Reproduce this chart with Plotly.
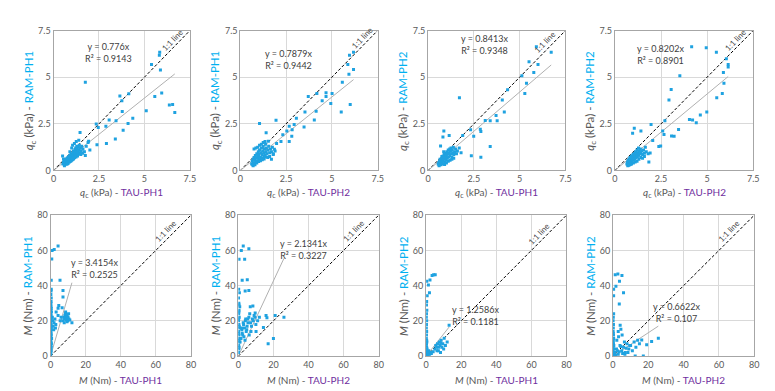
import plotly.graph_objects as go

# ---------------- DATA ----------------
# Panel 1: qc TAU-PH1 (x) vs RAM-PH1 (y)
p1_x = [0.52,0.55,0.58,0.6,0.62,0.63,0.65,0.66,0.68,0.7,0.7,0.72,0.74,0.75,0.76,0.78,0.8,0.8,0.82,0.84,0.85,0.86,0.88,0.9,0.9,0.92,0.94,0.95,0.96,0.98,1.0,1.0,1.02,1.04,1.05,1.06,1.08,1.1,1.1,1.12,1.14,1.15,1.16,1.18,1.2,1.2,1.22,1.24,1.25,1.26,1.28,1.3,1.3,1.32,1.35,1.36,1.38,1.4,1.42,1.45,1.48,1.5,1.52,1.55,1.6,1.62,1.7,1.75,0.5,0.55,0.6,1.0,0.9,1.15,1.25,1.05,1.8,1.9,2.0,
        5.84,5.82,5.39,5.88,1.75,5.95,4.14,3.65,5.57,3.76,6.55,6.37,3.78,5.10,6.67,3.06,4.36,3.44,2.35,2.46,4.10,3.83,2.88,3.40,2.91,2.39,1.93,1.46,1.39]
p1_y = [0.35,0.45,0.38,0.5,0.3,0.42,0.55,0.36,0.48,0.6,0.4,0.52,0.33,0.65,0.45,0.58,0.7,0.38,0.5,0.62,0.75,0.44,0.55,0.68,0.8,0.48,0.6,0.72,0.85,0.52,0.65,0.78,0.9,0.58,0.7,0.82,0.95,0.62,1.05,0.75,0.88,1.0,0.68,1.12,0.8,0.92,1.2,0.72,1.05,0.85,1.3,0.95,1.15,0.78,1.0,1.25,0.88,1.1,1.35,0.95,1.2,0.85,1.05,1.3,0.92,1.15,1.0,0.8,0.78,0.62,0.25,1.2,1.0,1.45,1.55,1.35,1.3,1.5,1.1,
        6.34,6.17,5.68,5.39,4.73,4.15,4.11,3.99,3.97,3.73,3.54,3.51,3.16,3.20,3.11,2.71,2.80,2.66,2.49,2.30,2.52,2.16,2.37,1.68,1.45,1.38,1.57,2.04,1.62]

# Panel 2: qc TAU-PH2 (x) vs RAM-PH1 (y)
p2_x = [0.62,0.65,0.68,0.7,0.72,0.75,0.78,0.8,0.82,0.85,0.88,0.9,0.92,0.95,0.98,1.0,1.02,1.05,1.08,1.1,1.12,1.15,1.18,1.2,1.22,1.25,1.28,1.3,1.32,1.35,1.38,1.4,1.42,1.45,1.5,1.55,1.6,1.65,1.7,1.75,1.8,1.9,0.7,0.8,0.9,1.0,1.1,1.2,1.3,1.4,0.75,0.85,0.95,1.05,1.15,1.25,1.35,1.5,1.6,1.7,
        6.18,5.96,5.87,6.18,5.93,5.57,4.68,4.18,5.01,3.71,4.47,4.68,6.00,5.51,4.94,4.14,3.53,3.06,4.04,1.95,1.05,2.67,2.94,3.48,2.83,2.54,2.32,2.81,2.67,2.22,1.98,1.41,1.53,1.80,1.86]
p2_y = [0.35,0.5,0.3,0.6,0.42,0.7,0.38,0.55,0.8,0.45,0.65,0.9,0.5,0.75,1.0,0.6,0.85,1.1,0.55,0.7,0.95,1.2,0.65,0.85,1.05,1.3,0.75,0.95,1.15,0.8,1.4,1.0,1.2,0.9,1.1,1.3,0.95,1.15,1.0,1.25,0.85,1.05,0.25,0.3,0.4,0.48,0.52,0.58,0.62,0.72,1.15,1.2,1.25,1.35,1.4,1.5,1.55,0.7,0.75,0.6,
        6.34,6.17,5.68,5.41,5.15,4.73,4.16,4.13,4.13,3.96,3.73,3.96,3.54,3.13,3.59,3.18,3.14,2.80,2.71,2.69,2.52,2.37,2.47,2.33,2.18,2.12,1.92,1.83,1.55,1.55,1.45,2.02,1.57,0.90,1.14]

# Panel 3: qc TAU-PH1 (x) vs RAM-PH2 (y)
p3_x = [0.55,0.58,0.6,0.62,0.65,0.68,0.7,0.72,0.75,0.78,0.8,0.82,0.85,0.88,0.9,0.92,0.95,0.98,1.0,1.02,1.05,1.08,1.1,1.12,1.15,1.18,1.2,1.22,1.25,1.28,1.3,1.32,1.35,1.38,1.4,1.45,1.5,1.55,1.6,0.6,0.7,0.8,0.9,1.0,1.1,1.2,1.3,1.4,0.65,0.75,0.85,1.7,1.8,
        5.91,6.72,5.51,6.0,5.77,5.12,5.37,4.34,5.28,1.71,4.05,4.16,3.71,3.77,3.39,3.12,2.85,2.32,2.49,2.88,1.89,0.86,1.15,0.81,0.68,3.39,2.36,2.88]
p3_y = [0.35,0.42,0.3,0.48,0.38,0.55,0.45,0.62,0.4,0.7,0.52,0.78,0.6,0.85,0.45,0.7,0.92,0.55,0.8,1.0,0.65,0.88,1.1,0.72,0.95,1.15,0.8,1.05,1.2,0.9,0.7,1.1,0.95,1.25,0.85,1.0,1.15,0.9,1.05,0.25,0.3,0.35,0.32,0.4,0.5,0.55,0.6,0.65,0.6,0.75,1.0,1.2,0.95,
        6.63,6.34,5.82,5.68,5.25,5.08,4.68,4.32,4.13,3.90,3.78,3.14,2.95,2.66,2.66,2.68,2.21,2.18,1.83,2.09,1.88,2.11,1.87,1.80,1.31,1.28,0.79,0.71]

# Panel 4: qc TAU-PH2 (x) vs RAM-PH2 (y)
p4_x = [0.65,0.68,0.7,0.72,0.75,0.78,0.8,0.82,0.85,0.88,0.9,0.92,0.95,0.98,1.0,1.02,1.05,1.08,1.1,1.12,1.15,1.18,1.2,1.22,1.25,1.28,1.3,1.32,1.35,1.38,1.4,1.45,1.5,1.55,1.6,1.65,1.7,1.8,0.7,0.8,0.9,1.0,1.1,1.2,1.3,1.4,0.75,0.85,1.5,1.6,
        4.16,4.95,5.50,6.04,6.14,6.14,5.88,3.52,5.91,3.05,5.82,5.52,2.93,4.98,4.63,4.04,4.21,4.41,2.71,3.45,3.07,3.21,2.59,2.66,1.96,2.38,2.48,2.05,1.05,0.96,1.41,1.91,1.84]
p4_y = [0.35,0.45,0.3,0.55,0.4,0.62,0.48,0.7,0.38,0.58,0.78,0.5,0.65,0.85,0.55,0.72,0.92,0.6,0.8,1.0,0.68,0.88,1.1,0.75,0.95,1.2,0.82,1.05,0.9,1.15,0.95,1.05,0.85,1.1,0.92,1.25,1.0,0.9,0.25,0.3,0.35,0.4,0.45,0.5,0.6,0.7,0.28,0.33,0.65,0.75,
        6.63,6.58,6.34,5.99,5.68,5.54,5.25,5.08,4.68,4.34,4.13,3.90,3.78,3.13,2.97,2.73,2.71,2.56,2.66,2.19,1.85,1.83,2.11,1.93,2.47,1.28,1.31,1.61,2.26,2.0,2.11,0.93,0.45]

# Panel 5: M TAU-PH1 (x) vs RAM-PH1 (y)
p5_x = [0.1,0.2,0.3,0.1,0.4,0.2,0.5,0.3,0.1,0.6,0.2,0.4,0.3,0.1,0.5,0.2,0.7,0.3,0.1,0.4,0.2,0.6,0.3,0.1,0.5,0.2,0.4,0.3,0.1,0.2,0.3,0.4,0.2,0.3,0.4,
        0.4,0.7,0.9,2.1,4.3,5.4,7.1,7.1,4.7,4.3,6.6,3.2,4.3,2.0,1.5,2.5,3.0,1.0,1.8,2.8,1.2,
        7.0,7.5,8.0,8.2,8.5,8.8,9.0,9.2,9.5,9.8,10.0,10.3,10.5,11.0,7.8,8.6,9.4,12.2,6.0,5.5]
p5_y = [1,2,3,4,5,6,7,8,9,10,11,12,13,14,15,16,17,18,19,20,21,22,23,24,25,26,27,28,29,30,31,33,35,37,38,
        43.1,55.1,59.9,60.5,62.5,43.1,37.2,33.5,28.7,27.2,27.4,25.0,23.1,19.0,17.0,21.0,18.0,22.0,15.0,16.0,20.0,
        20.0,22.0,21.0,23.0,24.0,20.5,22.5,21.0,23.5,20.0,22.0,24.0,21.0,20.5,19.0,25.0,19.5,18.9,22.0,20.0]

# Panel 6: M TAU-PH2 (x) vs RAM-PH1 (y)
p6_x = [0.1,0.3,0.2,0.5,0.1,0.4,0.2,0.6,0.3,0.1,0.5,0.2,0.4,0.8,0.3,0.1,0.6,0.2,0.4,0.3,0.1,0.5,0.2,0.3,0.4,
        2.8,1.7,6.0,3.6,0.4,2.2,5.1,3.9,6.0,8.3,6.8,5.4,9.6,15.8,16.3,21.0,26.0,20.0,17.0,14.3,10.1,
        2.0,3.0,4.0,5.0,6.0,7.0,8.0,9.0,10.0,11.0,12.0,2.5,3.5,4.5,5.5,6.5,7.5,8.5,1.5,2.2,3.2,4.2,1.0,1.8,2.8,3.8,4.8,6.2,7.2,9.5]
p6_y = [2,4,6,8,10,12,14,16,18,20,22,24,26,28,30,33,36,38,5,9,13,17,21,25,29,
        62.5,60.0,61.0,55.0,55.0,43.0,43.3,37.0,37.3,28.5,28.0,21.0,24.4,23.0,21.8,23.0,22.0,10.0,7.0,16.3,13.9,
        15,18,20,17,22,19,21,23,18,20,22,12,16,14,19,24,17,20,10,13,11,21,8,16,19,9,15,12,14,22]

# Panel 7: M TAU-PH1 (x) vs RAM-PH2 (y)
p7_x = [0.1,0.2,0.3,0.1,0.4,0.2,0.5,0.3,0.1,0.2,0.4,0.3,0.1,0.2,0.3,0.1,0.2,0.3,0.1,0.2,0.4,0.2,0.3,
        3.4,4.3,5.2,2.2,0.4,1.3,1.9,0.6,
        5.0,5.5,6.0,6.5,7.0,7.5,8.0,8.5,9.0,9.5,10.0,11.0,12.0,6.2,7.2,8.2,4.0,3.0,2.0,1.5,2.5,13.1,10.3,8.4,1.0,1.2]
p7_y = [0.5,1,1.5,2,2.5,3,4,5,6,7,8,9,10,12,14,16,18,20,22,24,26,29,31,
        45.8,46.2,46.2,43.2,42.5,40.3,36.0,34.2,
        4,6,5,7,3,8,6,9,5,7,4,6,8,3,5,2,2.5,1.5,1,3,2,17.5,10.2,7.4,1.5,0.8]

# Panel 8: M TAU-PH2 (x) vs RAM-PH2 (y)
p8_x = [0.1,0.2,0.3,0.1,0.4,0.2,0.5,0.3,0.1,0.2,0.4,0.3,0.1,0.2,0.3,0.1,0.2,0.4,0.2,
        1.3,2.8,5.1,3.7,1.7,0.4,0.4,6.0,3.6,4.1,4.5,3.0,
        1.0,2.0,3.0,4.0,5.0,6.0,7.0,8.0,9.0,10.0,11.0,12.0,13.0,14.0,15.0,1.5,2.5,3.5,4.5,5.5,6.5,7.5,8.5,9.5,25.7,21.9,19.1,16.3,17.2,12.6,2.2,3.2,5.2,6.8]
p8_y = [0.5,1,2,3,4,5,6,7,8,9,10,12,14,16,18,20,22,24,13,
        46.2,46.6,45.8,42.5,39.7,37.9,34.2,36.0,29.6,17.5,15.2,14.0,
        2,4,1,6,3,5,2,7,4,6,3,8,5,9,7,0.5,3,2.5,5.5,1.5,8,4.5,2,6,10.2,8.3,6.5,9.2,0.0,0.0,9,11,12,1]

slopes = [0.776, 0.7879, 0.8413, 0.8202, 3.4154, 2.1341, 1.2586, 0.6622]
r2_labels = ["0.9143", "0.9442", "0.9348", "0.8901", "0.2525", "0.3227", "0.1181", "0.107"]
x_labels = ["TAU-PH1", "TAU-PH2", "TAU-PH1", "TAU-PH2", "TAU-PH1", "TAU-PH2", "TAU-PH1", "TAU-PH2"]
y_labels = ["RAM-PH1", "RAM-PH1", "RAM-PH2", "RAM-PH2", "RAM-PH1", "RAM-PH1", "RAM-PH2", "RAM-PH2"]
top_ticks = [0, 2.5, 5, 7.5]
bottom_ticks = [0, 20, 40, 60, 80]

xs = [p1_x, p2_x, p3_x, p4_x, p5_x, p6_x, p7_x, p8_x]
ys = [p1_y, p2_y, p3_y, p4_y, p5_y, p6_y, p7_y, p8_y]

# ---------------- LAYOUT GEOMETRY (pixels) ----------------
W, H = 775, 391
px_x = [(43, 181), (232, 371), (422, 561), (611, 751), (40, 182), (230, 372), (420, 562), (609, 752)]
px_y_top = (17, 161)
px_y_bot = (207, 352)
ytitle_px = [19, 207, 397, 586, 17, 207, 397, 586]
eq_pos = [(3.02, 6.30), (2.61, 5.95), (3.06, 6.73), (2.48, 6.20),
          (25.3, 49.5), (37.4, 60.7), (28.1, 23.3), (36.0, 24.6)]
line_lbl = [6.75, 6.85, 6.6, 6.75, 68.0, 68.0, 66.5, 68.0]

FONT = "Lato, 'Liberation Sans', Arial, sans-serif"
GRAY = "#595959"
CYAN = "#00B0F0"
PURPLE = "#7030A0"
MARK = "#1FA2E0"

fig = go.Figure()
annotations = []
axes_layout = {}
for i in range(8):
    n = i + 1
    top = i < 4
    xa = "x" if n == 1 else f"x{n}"
    ya = "y" if n == 1 else f"y{n}"
    rmax = 7.5 if top else 80
    ticks = top_ticks if top else bottom_ticks
    x0, x1 = px_x[i]
    yt, yb = px_y_top if top else px_y_bot
    xd = [x0 / W, x1 / W]
    yd = [(H - yb) / H, (H - yt) / H]
    axkw = dict(range=[0, rmax], tickmode="array", tickvals=ticks, showgrid=True,
                gridcolor="#D9D9D9", gridwidth=1, zeroline=False, showline=True,
                linecolor="#A6A6A6", linewidth=1, mirror=True, ticks="",
                tickfont=dict(family=FONT, size=9, color=GRAY), fixedrange=True)
    axes_layout["xaxis" if n == 1 else f"xaxis{n}"] = dict(domain=xd, anchor=ya, **axkw)
    axes_layout["yaxis" if n == 1 else f"yaxis{n}"] = dict(domain=yd, anchor=xa, **axkw)

    # 1:1 line
    fig.add_trace(go.Scatter(x=[0, rmax], y=[0, rmax], mode="lines",
                             line=dict(color="#000000", width=1, dash="3px,2px"),
                             xaxis=xa, yaxis=ya, hoverinfo="skip", showlegend=False))
    # trend line
    xmax = max(xs[i])
    fig.add_trace(go.Scatter(x=[0, xmax], y=[0, slopes[i] * xmax], mode="lines",
                             line=dict(color="#B0B0B0", width=1),
                             xaxis=xa, yaxis=ya, hoverinfo="skip", showlegend=False))
    # data
    fig.add_trace(go.Scatter(x=xs[i], y=ys[i], mode="markers",
                             marker=dict(color=MARK, size=3, symbol="square", line=dict(width=0)),
                             xaxis=xa, yaxis=ya, showlegend=False))

    ex, ey = eq_pos[i]
    annotations.append(dict(x=ex, y=ey, xref=xa, yref=ya,
                            text=f"y = {slopes[i]}x<br>R² = {r2_labels[i]}", showarrow=False,
                            xanchor="center", yanchor="middle", align="center",
                            font=dict(family=FONT, size=9, color="#404040")))
    lp = line_lbl[i]
    annotations.append(dict(x=lp, y=lp, xref=xa, yref=ya, text="1:1 line", showarrow=False, textangle=-46,
                            xanchor="center", yanchor="middle", xshift=-4, yshift=5,
                            font=dict(family=FONT, size=8, color="#404040")))

    qty = "<i>q</i><sub>c</sub> (kPa)" if top else "<i>M</i> (Nm)"
    xt_y = (H - 184) / H if top else (H - 377) / H
    annotations.append(dict(x=(x0 + x1) / 2 / W, y=xt_y, xref="paper", yref="paper",
                            xanchor="center", yanchor="middle",
                            text=f"{qty} - <span style='color:{PURPLE}'>{x_labels[i]}</span>",
                            showarrow=False, font=dict(family=FONT, size=10, color=GRAY)))
    annotations.append(dict(x=ytitle_px[i] / W, y=(H - (yt + yb) / 2) / H, xref="paper", yref="paper",
                            xanchor="center", yanchor="middle",
                            text=f"{qty} - <span style='color:{CYAN}'>{y_labels[i]}</span>",
                            textangle=-90, showarrow=False, font=dict(family=FONT, size=11.5, color=GRAY)))

fig.update_layout(width=W, height=H, margin=dict(l=0, r=0, t=0, b=0),
                  paper_bgcolor="white", plot_bgcolor="white", annotations=annotations,
                  font=dict(family=FONT, size=9, color=GRAY), **axes_layout)
fig.write_html("out.html")
